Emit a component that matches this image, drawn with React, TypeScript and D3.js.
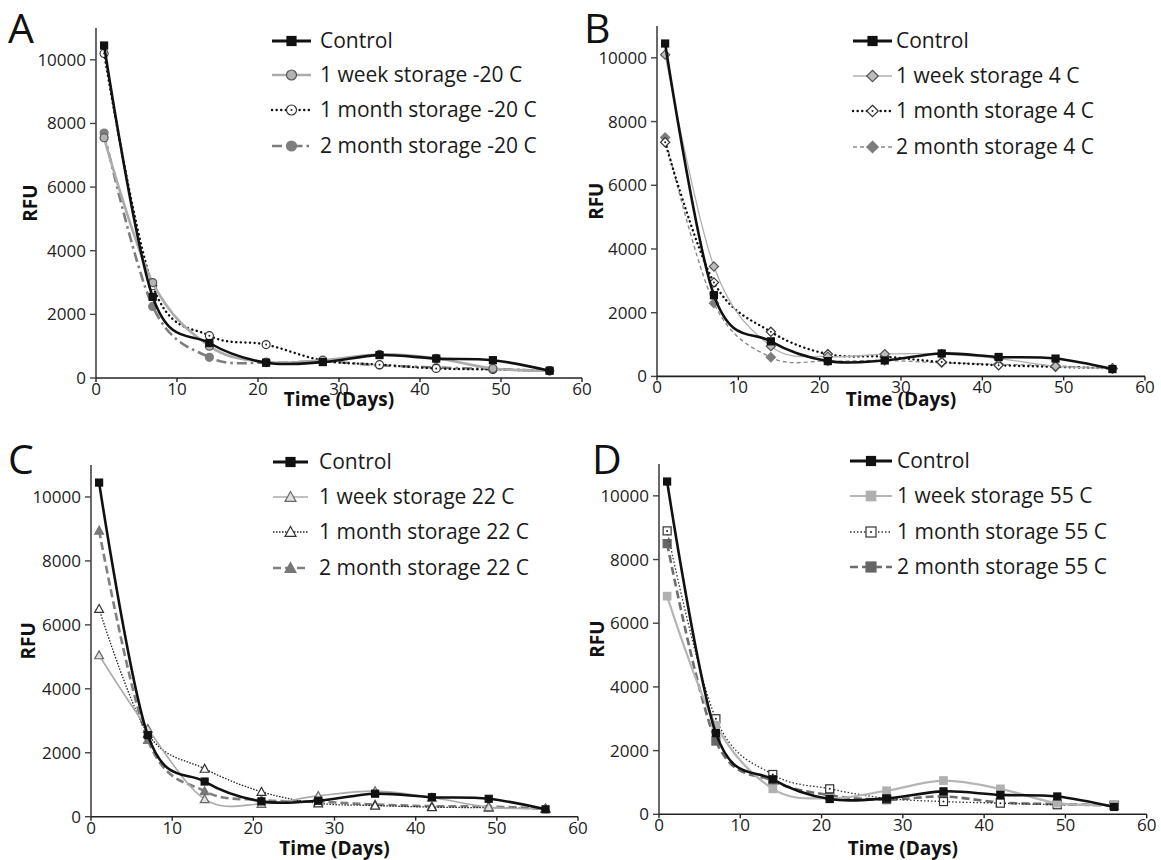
import React from 'react';
import * as d3 from 'd3';

// ---------- DATA ----------
const days = [1, 7, 14, 21, 28, 35, 42, 49, 56];
const yTicks = [0, 2000, 4000, 6000, 8000, 10000];
const xTicks = [0, 10, 20, 30, 40, 50, 60];

const controlRFU = [10450, 2550, 1100, 480, 500, 720, 610, 560, 230];

// Panel A (-20 C)
const weekMinus20 = [7550, 3000, 1000, 500, 560, 740, 620, 300, 230];
const monthMinus20 = [10200, 2900, 1330, 1050, 550, 420, 300, 270, 230];
const twoMonthMinus20 = [7700, 2250, 650, 480, 520, 400, 330, 280, 220];

// Panel B (4 C)
const week4 = [10100, 3450, 950, 620, 700, 700, 560, 320, 250];
const month4 = [7350, 2950, 1400, 700, 620, 450, 350, 300, 250];
const twoMonth4 = [7500, 2300, 600, 480, 500, 430, 380, 330, 250];

// Panel C (22 C)
const week22 = [5050, 2750, 550, 400, 650, 800, 600, 300, 250];
const month22 = [6500, 2600, 1500, 780, 420, 350, 300, 280, 250];
const twoMonth22 = [8950, 2400, 800, 520, 470, 380, 330, 320, 250];

// Panel D (55 C)
const week55 = [6850, 2800, 800, 500, 740, 1060, 800, 350, 300];
const month55 = [8900, 3000, 1250, 800, 500, 400, 350, 300, 280];
const twoMonth55 = [8500, 2300, 1050, 600, 460, 560, 370, 320, 280];

// ---------- STYLES / LAYOUT ----------
type Shape = 'square' | 'circle' | 'diamond' | 'triangle';
interface SeriesCfg {
  name: string;
  values: number[];
  stroke: string;
  width: number;
  dash?: string;
  cap?: 'round' | 'butt';
  shape: Shape;
  fill: string;
  mStroke: string;
  size: number;
  dot?: boolean;
}
interface PanelCfg {
  letter: string;
  letterX: number;
  letterY: number;
  x0: number;
  x1: number;
  yBottom: number;
  yTop: number;
  legLine: [number, number];
  legText: number;
  legRows: number[];
  ylabX: number;
  xlabY: number;
  series: SeriesCfg[];
}

const FONT = '"Open Sans", "DejaVu Sans", sans-serif';

const control: SeriesCfg = {
  name: 'Control', values: controlRFU, stroke: '#111', width: 2.6, shape: 'square',
  fill: '#111', mStroke: '#111', size: 7,
};

const panels: PanelCfg[] = [
  {
    letter: 'A', letterX: 8, letterY: 43, x0: 96, x1: 582, yBottom: 378, yTop: 28,
    legLine: [272, 311], legText: 320, legRows: [41, 75, 110, 146], ylabX: 37, xlabY: 406,
    series: [
      control,
      { name: '1 week storage -20 C', values: weekMinus20, stroke: '#ababab', width: 2.6, shape: 'circle', fill: '#b3b3b3', mStroke: '#555', size: 8 },
      { name: '1 month storage -20 C', values: monthMinus20, stroke: '#111', width: 2.4, dash: '0.1,4.5', cap: 'round', shape: 'circle', fill: '#fff', mStroke: '#333', size: 8, dot: true },
      { name: '2 month storage -20 C', values: twoMonthMinus20, stroke: '#7d7d7d', width: 2.6, dash: '10,4,2.5,4', shape: 'circle', fill: '#7d7d7d', mStroke: '#7d7d7d', size: 8 },
    ],
  },
  {
    letter: 'B', letterX: 584, letterY: 43, x0: 657, x1: 1145, yBottom: 376.4, yTop: 26,
    legLine: [853, 892], legText: 896, legRows: [41, 76, 111, 147], ylabX: 603, xlabY: 406,
    series: [
      control,
      { name: '1 week storage 4 C', values: week4, stroke: '#b0b0b0', width: 1.3, shape: 'diamond', fill: '#bdbdbd', mStroke: '#555', size: 8 },
      { name: '1 month storage 4 C', values: month4, stroke: '#111', width: 2.4, dash: '0.1,4.5', cap: 'round', shape: 'diamond', fill: '#fff', mStroke: '#333', size: 8, dot: true },
      { name: '2 month storage 4 C', values: twoMonth4, stroke: '#8a8a8a', width: 1.4, dash: '4,3', shape: 'diamond', fill: '#7d7d7d', mStroke: '#7d7d7d', size: 8 },
    ],
  },
  {
    letter: 'C', letterX: 8, letterY: 474, x0: 91, x1: 578, yBottom: 816.7, yTop: 465,
    legLine: [273, 308], legText: 319, legRows: [462, 497, 532, 568], ylabX: 35, xlabY: 855,
    series: [
      control,
      { name: '1 week storage 22 C', values: week22, stroke: '#ababab', width: 1.6, shape: 'triangle', fill: '#e0e0e0', mStroke: '#6a6a6a', size: 8 },
      { name: '1 month storage 22 C', values: month22, stroke: '#222', width: 1.3, dash: '1.5,1.5', shape: 'triangle', fill: '#fff', mStroke: '#333', size: 8 },
      { name: '2 month storage 22 C', values: twoMonth22, stroke: '#808080', width: 2.6, dash: '8,4', shape: 'triangle', fill: '#777', mStroke: '#777', size: 8 },
    ],
  },
  {
    letter: 'D', letterX: 592, letterY: 474, x0: 659, x1: 1146.7, yBottom: 814.3, yTop: 464,
    legLine: [850, 892], legText: 897, legRows: [461, 496, 532, 567], ylabX: 604, xlabY: 855,
    series: [
      control,
      { name: '1 week storage 55 C', values: week55, stroke: '#b5b5b5', width: 2.2, shape: 'square', fill: '#b0b0b0', mStroke: '#b0b0b0', size: 7.5 },
      { name: '1 month storage 55 C', values: month55, stroke: '#333', width: 1.3, dash: '1.5,2', shape: 'square', fill: '#fff', mStroke: '#333', size: 8, dot: true },
      { name: '2 month storage 55 C', values: twoMonth55, stroke: '#6e6e6e', width: 2.6, dash: '8,4', shape: 'square', fill: '#666', mStroke: '#666', size: 8 },
    ],
  },
];

function Marker({ shape, x, y, size, fill, stroke, dot }: { shape: Shape; x: number; y: number; size: number; fill: string; stroke: string; dot?: boolean }) {
  const h = size / 2;
  let el: React.ReactNode = null;
  if (shape === 'square') {
    el = <rect x={x - h} y={y - h} width={size} height={size} fill={fill} stroke={stroke} strokeWidth={1.2} />;
  } else if (shape === 'circle') {
    el = <circle cx={x} cy={y} r={h} fill={fill} stroke={stroke} strokeWidth={1.2} />;
  } else if (shape === 'diamond') {
    const d = h * 1.15;
    el = <path d={`M${x},${y - d}L${x + d},${y}L${x},${y + d}L${x - d},${y}Z`} fill={fill} stroke={stroke} strokeWidth={1.2} />;
  } else {
    const d = h * 1.1;
    el = <path d={`M${x},${y - d}L${x + d},${y + d * 0.8}L${x - d},${y + d * 0.8}Z`} fill={fill} stroke={stroke} strokeWidth={1.2} />;
  }
  return (
    <g>
      {el}
      {dot && <circle cx={x} cy={y} r={1} fill="#222" />}
    </g>
  );
}

function Panel({ p }: { p: PanelCfg }) {
  const xs = d3.scaleLinear().domain([0, 60]).range([p.x0, p.x1]);
  const ys = d3.scaleLinear().domain([0, 11000]).range([p.yBottom, p.yTop]);
  const line = d3
    .line<[number, number]>()
    .x((d) => xs(d[0]))
    .y((d) => ys(d[1]))
    .curve(d3.curveCatmullRom.alpha(0));
  const axisColor = '#444';
  const order = [3, 2, 1, 0];
  return (
    <g>
      <text x={p.letterX} y={p.letterY} fontFamily={FONT} fontSize={41} fill="#111">{p.letter}</text>
      {/* y axis */}
      <line x1={p.x0} x2={p.x0} y1={p.yTop} y2={p.yBottom} stroke={axisColor} strokeWidth={1.6} />
      {yTicks.map((t) => (
        <g key={'y' + t}>
          <line x1={p.x0 - 6} x2={p.x0} y1={ys(t)} y2={ys(t)} stroke={axisColor} strokeWidth={1.4} />
          <text x={p.x0 - 10} y={ys(t) + 6} textAnchor="end" fontFamily={FONT} fontSize={17} fill="#222">{t}</text>
        </g>
      ))}
      {/* x axis */}
      <line x1={p.x0} x2={p.x1} y1={p.yBottom} y2={p.yBottom} stroke="#222" strokeWidth={1.6} />
      {xTicks.map((t) => (
        <g key={'x' + t}>
          <line x1={xs(t)} x2={xs(t)} y1={p.yBottom} y2={p.yBottom + 4} stroke="#222" strokeWidth={1.4} />
          <text x={xs(t)} y={p.yBottom + 17} textAnchor="middle" fontFamily={FONT} fontSize={17} fill="#222">{t}</text>
        </g>
      ))}
      <text x={(p.x0 + p.x1) / 2} y={p.xlabY} textAnchor="middle" fontFamily={FONT} fontWeight={700} fontSize={19} fill="#111">Time (Days)</text>
      <text transform={`translate(${p.ylabX},${(p.yTop + p.yBottom) / 2}) rotate(-90)`} textAnchor="middle" fontFamily={FONT} fontWeight={700} fontSize={19} fill="#111">RFU</text>
      {/* series */}
      {order.map((i) => {
        const s = p.series[i];
        const pts = days.map((d, k) => [d, s.values[k]] as [number, number]);
        return (
          <g key={'s' + i}>
            <path d={line(pts) || ''} fill="none" stroke={s.stroke} strokeWidth={s.width} strokeDasharray={s.dash} strokeLinecap={s.cap || 'butt'} strokeLinejoin="round" />
            {pts.map((q, k) => (
              <Marker key={k} shape={s.shape} x={xs(q[0])} y={ys(q[1])} size={s.size} fill={s.fill} stroke={s.mStroke} dot={s.dot} />
            ))}
          </g>
        );
      })}
      {/* legend */}
      {p.series.map((s, i) => {
        const y = p.legRows[i];
        const cx = (p.legLine[0] + p.legLine[1]) / 2;
        return (
          <g key={'l' + i}>
            <line x1={p.legLine[0]} x2={p.legLine[1]} y1={y} y2={y} stroke={s.stroke} strokeWidth={i === 0 ? 3 : s.width} strokeDasharray={s.dash} strokeLinecap={s.cap || 'butt'} />
            <Marker shape={s.shape} x={cx} y={y} size={s.size + 2} fill={s.fill} stroke={s.mStroke} dot={s.dot} />
            <text x={p.legText} y={y + 7} fontFamily={FONT} fontSize={21} fill="#1a1a1a">{s.name}</text>
          </g>
        );
      })}
    </g>
  );
}

export default function App() {
  return (
    <svg width={1161} height={860} style={{ position: 'absolute', left: 0, top: 0, background: '#fff' }}>
      <rect width={1161} height={860} fill="#fff" />
      {panels.map((p) => (
        <Panel key={p.letter} p={p} />
      ))}
    </svg>
  );
}
